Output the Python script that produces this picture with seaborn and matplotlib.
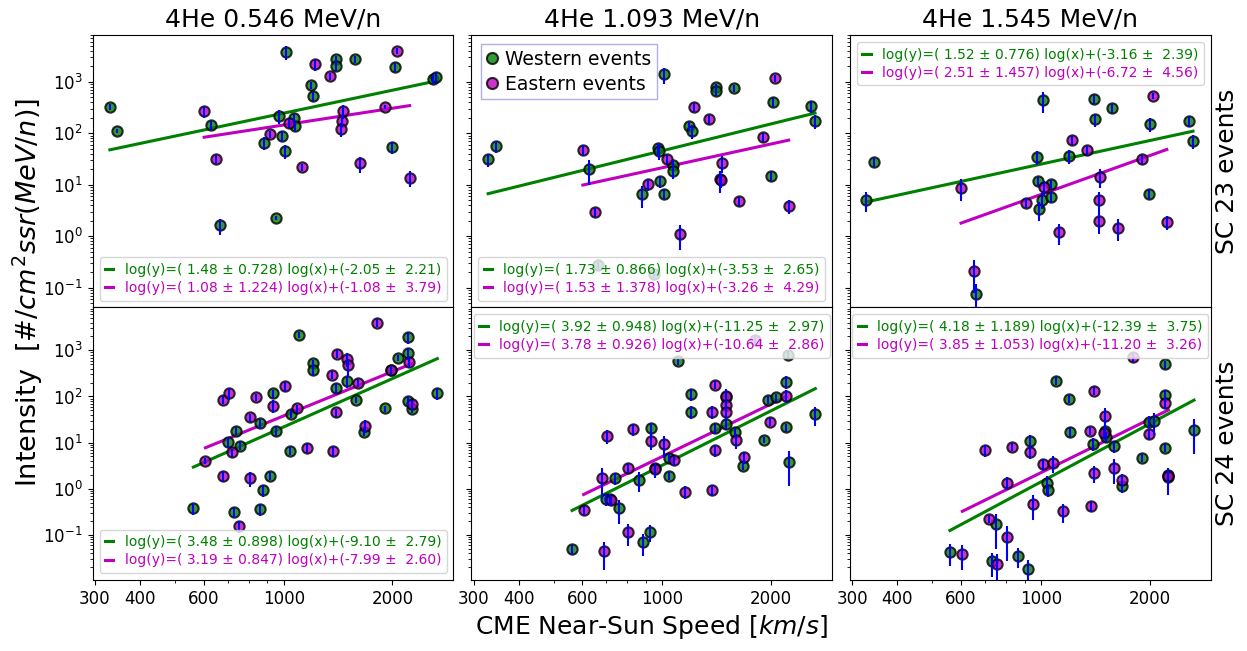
import numpy as np
import pandas as pd
import matplotlib
matplotlib.use("Agg")
import matplotlib.pyplot as plt
import seaborn as sns
from matplotlib.ticker import NullFormatter
from matplotlib.lines import Line2D

# ---------------- data ----------------
titles = ["4He 0.546 MeV/n", "4He 1.093 MeV/n", "4He 1.545 MeV/n"]
row_labels = ["SC 23 events", "SC 24 events"]
group_names = ["Western events", "Eastern events"]

# SC23, 0.546 MeV/n
w23a_x = [330, 346, 627, 665, 880, 949, 973, 986, 1011, 1017, 1066, 1073, 1187, 1202, 1398, 1393, 1578, 1999, 2037, 2591, 2646]
w23a_y = [327, 111, 144, 1.63, 66, 2.26, 218, 89, 45, 3840, 194, 139, 863, 527, 2730, 2020, 2730, 53, 1960, 1110, 1250]
w23a_e = [0.15, 0.1, 0.2, 0.35, 0.3, 0.1, 0.3, 0.25, 0.3, 0.3, 0.2, 0.2, 0.15, 0.2, 0.15, 0.2, 0.15, 0.25, 0.2, 0.2, 0.25]
e23a_x = [602, 651, 915, 1031, 1127, 1218, 1343, 1462, 1452, 1445, 1630, 1907, 2060, 2232]
e23a_y = [269, 31, 95, 155, 22, 2180, 1290, 273, 174, 119, 26, 327, 4010, 13.6]
e23a_e = [0.25, 0.2, 0.15, 0.2, 0.15, 0.25, 0.15, 0.3, 0.25, 0.3, 0.35, 0.1, 0.15, 0.35]

# SC23, 1.093 MeV/n
w23b_x = [329, 346, 627, 662, 878, 946, 971, 978, 985, 1007, 1013, 1069, 1069, 1182, 1205, 1406, 1409, 1575, 1999, 2020, 2580, 2647]
w23b_y = [31, 56, 19.8, 0.27, 6.5, 0.18, 50.6, 45.5, 11.7, 6.5, 1393, 24, 18.3, 137, 111, 778, 659, 745, 14.8, 408, 336, 174]
w23b_e = [0.3, 0.25, 0.5, 0.15, 0.45, 0.15, 0.3, 0.35, 0.25, 0.2, 0.35, 0.25, 0.3, 0.2, 0.3, 0.15, 0.2, 0.15, 0.2, 0.2, 0.25, 0.3]
e23b_x = [602, 651, 911, 1029, 1122, 1220, 1344, 1462, 1447, 1455, 1633, 1895, 2056, 2238]
e23b_y = [48, 2.88, 10.1, 32, 1.09, 327, 188, 26.5, 12.8, 12.2, 4.8, 85, 1165, 3.8]
e23b_e = [0.25, 0.2, 0.25, 0.2, 0.5, 0.2, 0.2, 0.35, 0.45, 0.3, 0.2, 0.2, 0.15, 0.3]

# SC23, 1.545 MeV/n
w23c_x = [327, 345, 660, 973, 978, 984, 1003, 1014, 1062, 1066, 1191, 1403, 1412, 1576, 1990, 2005, 2568, 2635]
w23c_y = [5.15, 27, 0.076, 34.8, 11.9, 3.33, 5.15, 440, 5.8, 10.2, 35.8, 455, 185, 303, 6.7, 150, 174, 71]
w23c_e = [0.42, 0.2, 0.57, 0.3, 0.2, 0.4, 0.35, 0.45, 0.25, 0.2, 0.3, 0.2, 0.3, 0.2, 0.2, 0.3, 0.25, 0.3]
e23c_x = [600, 650, 907, 1020, 1122, 1216, 1336, 1456, 1447, 1451, 1633, 1900, 2043, 2229]
e23c_y = [8.8, 0.21, 4.5, 9.1, 1.2, 73, 48, 14.2, 5.0, 1.98, 1.47, 31, 534, 1.89]
e23c_e = [0.45, 0.62, 0.2, 0.3, 0.45, 0.2, 0.2, 0.4, 0.45, 0.45, 0.45, 0.2, 0.15, 0.3]

# SC24, 0.546 MeV/n
w24a_x = [562, 700, 737, 729, 756, 862, 862, 877, 919, 931, 950, 1039, 1046, 1102, 1206, 1206, 1400, 1493, 1590, 1668, 1906, 1980, 2072, 2214, 2214, 2207, 2262, 2664]
w24a_y = [0.385, 10.4, 18.1, 0.316, 8.5, 26.6, 0.366, 0.94, 1.9, 117, 18.1, 6.6, 41.8, 2200, 528, 380, 154, 214, 84, 17.2, 55, 366, 680, 1950, 873, 81, 53.7, 117]
w24a_e = [0.3, 0.25, 0.2, 0.25, 0.2, 0.25, 0.3, 0.3, 0.2, 0.2, 0.25, 0.2, 0.2, 0.15, 0.2, 0.25, 0.25, 0.3, 0.15, 0.2, 0.15, 0.2, 0.15, 0.3, 0.3, 0.25, 0.2, 0.3]
e24a_x = [607, 680, 706, 680, 721, 753, 806, 806, 836, 931, 1011, 1085, 1157, 1364, 1405, 1400, 1371, 1497, 1510, 1606, 1675, 1808, 1987, 2223, 2262]
e24a_y = [4.0, 84, 117, 1.9, 6.1, 0.154, 35.2, 1.69, 96, 63, 167, 55, 7.8, 296, 848, 45, 6.6, 659, 471, 198, 23.2, 4010, 380, 556, 69]
e24a_e = [0.15, 0.2, 0.3, 0.25, 0.2, 0.3, 0.2, 0.35, 0.15, 0.3, 0.25, 0.2, 0.25, 0.2, 0.2, 0.2, 0.25, 0.35, 0.4, 0.2, 0.3, 0.2, 0.2, 0.25, 0.2]

# SC24, 1.093 MeV/n
w24b_x = [562, 700, 714, 737, 756, 864, 882, 922, 931, 951, 1041, 1041, 1102, 1201, 1201, 1400, 1502, 1502, 1590, 1675, 1906, 1965, 2064, 2202, 2202, 2249, 2225, 2652]
w24b_y = [0.0493, 0.605, 0.59, 1.69, 0.374, 1.55, 0.069, 0.116, 20.3, 2.87, 1.9, 4.7, 576, 114, 47, 20.3, 25.3, 96, 17.2, 3.13, 11.3, 84, 96, 211, 21.3, 3.82, 806, 41.8]
w24b_e = [0.25, 0.3, 0.3, 0.3, 0.55, 0.45, 0.5, 0.4, 0.3, 0.25, 0.2, 0.2, 0.15, 0.3, 0.3, 0.25, 0.25, 0.3, 0.2, 0.2, 0.15, 0.2, 0.2, 0.3, 0.2, 0.7, 0.2, 0.45]
e24b_x = [605, 679, 687, 703, 721, 802, 802, 831, 931, 951, 1009, 1080, 1157, 1370, 1370, 1400, 1400, 1502, 1502, 1502, 1600, 1678, 1800, 1991, 2202]
e24b_y = [0.343, 1.74, 0.044, 14.1, 0.558, 2.87, 0.116, 19.7, 10.9, 2.65, 9.3, 4.2, 0.86, 47, 0.94, 179, 6.9, 101, 66, 45, 11.3, 4.9, 1650, 28.4, 104]
e24b_e = [0.2, 0.65, 0.6, 0.35, 0.2, 0.25, 0.5, 0.3, 0.35, 0.35, 0.5, 0.25, 0.3, 0.3, 0.25, 0.2, 0.3, 0.45, 0.3, 0.4, 0.35, 0.3, 0.2, 0.2, 0.3]

# SC24, 1.545 MeV/n
w24c_x = [559, 731, 749, 864, 917, 931, 1036, 1043, 1098, 1196, 1200, 1396, 1502, 1509, 1593, 1672, 1900, 1990, 2056, 2207, 2207, 2207, 2249, 2252, 2652]
w24c_y = [0.0418, 0.0266, 0.168, 0.0354, 0.018, 10.6, 1.31, 0.94, 222, 88.7, 17.2, 9.5, 18.1, 13.4, 8.5, 1.15, 4.7, 28.4, 29.9, 495, 108, 7.8, 1.99, 1.8, 18.7]
w24c_e = [0.5, 0.55, 0.7, 0.45, 0.55, 0.35, 0.45, 0.3, 0.2, 0.2, 0.25, 0.3, 0.3, 0.25, 0.3, 0.3, 0.2, 0.3, 0.5, 0.2, 0.3, 0.2, 0.3, 0.6, 0.7]
e24c_x = [605, 700, 715, 754, 802, 802, 830, 931, 951, 1009, 1082, 1152, 1373, 1366, 1403, 1403, 1502, 1497, 1596, 1672, 1800, 1986, 2207, 2252]
e24c_y = [0.0384, 6.9, 0.226, 0.0237, 0.09, 1.35, 8.2, 6.4, 0.471, 3.4, 3.57, 0.327, 0.42, 18.1, 134, 2.23, 38.4, 15.8, 2.87, 1.55, 715, 15.3, 71, 1.9]
e24c_e = [0.55, 0.3, 0.2, 0.65, 0.7, 0.3, 0.2, 0.3, 0.55, 0.3, 0.4, 0.45, 0.25, 0.2, 0.2, 0.4, 0.45, 0.25, 0.55, 0.35, 0.2, 0.25, 0.25, 0.3]

# fit coefficients: slope, slope error, intercept, intercept error
fit_w23 = [(1.48, 0.728, -2.05, 2.21), (1.73, 0.866, -3.53, 2.65), (1.52, 0.776, -3.16, 2.39)]
fit_e23 = [(1.08, 1.224, -1.08, 3.79), (1.53, 1.378, -3.26, 4.29), (2.51, 1.457, -6.72, 4.56)]
fit_w24 = [(3.48, 0.898, -9.10, 2.79), (3.92, 0.948, -11.25, 2.97), (4.18, 1.189, -12.39, 3.75)]
fit_e24 = [(3.19, 0.847, -7.99, 2.60), (3.78, 0.926, -10.64, 2.86), (3.85, 1.053, -11.20, 3.26)]

x_major = [300, 400, 600, 1000, 2000]
x_minor = [500, 700, 800, 900]

# ---------------- assemble ----------------
west = [[(w23a_x, w23a_y, w23a_e), (w23b_x, w23b_y, w23b_e), (w23c_x, w23c_y, w23c_e)],
        [(w24a_x, w24a_y, w24a_e), (w24b_x, w24b_y, w24b_e), (w24c_x, w24c_y, w24c_e)]]
east = [[(e23a_x, e23a_y, e23a_e), (e23b_x, e23b_y, e23b_e), (e23c_x, e23c_y, e23c_e)],
        [(e24a_x, e24a_y, e24a_e), (e24b_x, e24b_y, e24b_e), (e24c_x, e24c_y, e24c_e)]]
fits_w = [fit_w23, fit_w24]
fits_e = [fit_e23, fit_e24]

legend_locs = [["lower left", "lower left", "upper right"],
               ["lower left", "upper center", "upper center"]]
ylims = [(0.041, 8100), (0.0105, 8500)]

face = {"w": "g", "e": "m"}

fig, axes = plt.subplots(2, 3, figsize=(12.47, 6.51), dpi=100, sharex=True, sharey="row")
fig.subplots_adjust(left=0.0743, right=0.9709, top=0.9462, bottom=0.1091,
                    wspace=0.05, hspace=0)

for r in range(2):
    for c in range(3):
        ax = axes[r, c]
        ax.set_xscale("log")
        ax.set_yscale("log")
        handles = []
        for key, grp, fit in (("w", west[r][c], fits_w[r][c]), ("e", east[r][c], fits_e[r][c])):
            xs, ys, fr = grp
            df = pd.DataFrame({"speed": xs, "intensity": ys,
                               "err": np.array(fr) * np.array(ys)})
            a, ea, b, eb = fit
            xl = np.array([min(xs), max(xs)], dtype=float)
            yl = 10 ** (a * np.log10(xl) + b)
            lab = "log(y)=(%5.2f \u00b1 %5.3f) log(x)+(%5.2f \u00b1 %5.2f)" % (a, ea, b, eb)
            ln, = ax.plot(xl, yl, color=face[key], lw=2.2, zorder=2, label=lab)
            handles.append(ln)
            sns.scatterplot(data=df, x="speed", y="intensity", color=face[key],
                            s=55, edgecolor="k", linewidth=1.5, alpha=0.8,
                            legend=False, ax=ax, zorder=2.5)
            ax.errorbar(df["speed"], df["intensity"], yerr=df["err"], fmt="none",
                        ecolor="b", elinewidth=1.5, capsize=0, zorder=3)
        ax.set_xlabel("")
        ax.set_ylabel("")
        ax.set_ylim(*ylims[r])
        ax.set_xlim(295.6, 2950)
        leg = ax.legend(handles=handles, loc=legend_locs[r][c], fontsize=10,
                        handlelength=0.6, labelspacing=0.3, labelcolor="linecolor")
        if r == 0 and c == 1:
            ax.add_artist(leg)
            mh = [Line2D([], [], ls="", marker="o", ms=8, mfc=face["w"], mec="k",
                         mew=1.5, alpha=0.8),
                  Line2D([], [], ls="", marker="o", ms=8, mfc=face["e"], mec="k",
                         mew=1.5, alpha=0.8)]
            ax.legend(mh, group_names, loc="upper left", fontsize=13.5,
                      handlelength=0.6, handletextpad=0.4, borderpad=0.3,
                      labelspacing=0.3, edgecolor="#9d9de0", fancybox=False)
        ax.tick_params(labelsize=12)
        if r == 0:
            ax.set_title(titles[c], fontsize=18)
        if c == 2:
            ax.text(1.012, 0.5, row_labels[r], transform=ax.transAxes, rotation=90,
                    fontsize=18, ha="left", va="center")

ax0 = axes[1, 0]
ax0.set_xticks(x_major)
ax0.set_xticklabels([str(v) for v in x_major])
ax0.set_xticks(x_minor, minor=True)
ax0.xaxis.set_minor_formatter(NullFormatter())

axes[1, 1].set_xlabel("CME Near-Sun Speed [$km/s$]", fontsize=18)
fig.text(0.0225, 0.551, "Intensity  [$\\#/cm^2 ssr(MeV/n)$]", rotation=90,
         fontsize=19.5, ha="center", va="center")

fig.savefig("out.png", dpi=100)
